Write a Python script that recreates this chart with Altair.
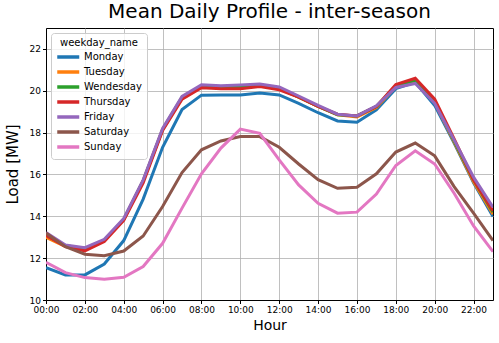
import altair as alt
import pandas as pd

hours = list(range(24))
days = ["Monday", "Tuesday", "Wendesday", "Thursday", "Friday", "Saturday", "Sunday"]
colors = ["#1f77b4", "#ff7f0e", "#2ca02c", "#d62728", "#9467bd", "#8c564b", "#e377c2"]

monday = [11.55, 11.2, 11.2, 11.72, 12.84, 14.82, 17.3, 19.1, 19.79, 19.8, 19.8, 19.89,
          19.8, 19.4, 18.95, 18.56, 18.5, 19.09, 20.1, 20.4, 19.3, 17.5, 15.6, 13.99]
tuesday = [13.0, 12.55, 12.4, 12.85, 13.85, 15.7, 18.15, 19.65, 20.2, 20.15, 20.15, 20.25,
           20.1, 19.7, 19.25, 18.85, 18.75, 19.2, 20.2, 20.45, 19.45, 17.55, 15.65, 14.1]
wednesday = [13.1, 12.6, 12.45, 12.85, 13.85, 15.7, 18.15, 19.7, 20.2, 20.15, 20.2, 20.25,
             20.1, 19.7, 19.25, 18.85, 18.8, 19.25, 20.25, 20.5, 19.5, 17.6, 15.75, 14.2]
thursday = [13.1, 12.55, 12.35, 12.8, 13.8, 15.6, 18.1, 19.6, 20.15, 20.1, 20.1, 20.2,
            20.05, 19.7, 19.25, 18.88, 18.8, 19.25, 20.3, 20.6, 19.6, 17.7, 15.75, 14.25]
friday = [13.22, 12.63, 12.5, 12.9, 13.9, 15.74, 18.2, 19.73, 20.29, 20.24, 20.27, 20.32,
          20.18, 19.75, 19.3, 18.88, 18.8, 19.28, 20.16, 20.35, 19.4, 17.65, 15.87, 14.43]
saturday = [13.2, 12.55, 12.19, 12.12, 12.34, 13.06, 14.47, 16.09, 17.18, 17.6, 17.81, 17.81,
            17.3, 16.5, 15.75, 15.34, 15.39, 16.03, 17.07, 17.5, 16.89, 15.42, 14.15, 12.84]
sunday = [11.8, 11.31, 11.07, 10.99, 11.09, 11.6, 12.71, 14.39, 16.03, 17.26, 18.17, 17.97,
          16.7, 15.5, 14.62, 14.15, 14.2, 15.06, 16.43, 17.13, 16.5, 15.1, 13.54, 12.31]

series = [monday, tuesday, wednesday, thursday, friday, saturday, sunday]

x_ticks = list(range(0, 24, 2))
y_ticks = list(range(10, 23, 2))

color_scale = alt.Scale(domain=days, range=colors)

legend = alt.Legend(
    title="weekday_name", orient="none", legendX=5, legendY=5,
    symbolType="M-1.875,0H9.125", symbolSize=16, symbolStrokeWidth=3.5,
    labelOffset=18, strokeColor="#cccccc", fillColor="rgba(255,255,255,0.8)",
    cornerRadius=3, padding=5, labelFontSize=10, titleFontSize=10,
    titleFontWeight="normal", titleColor="black", labelColor="black",
    rowPadding=1, titleAnchor="middle", titleAlign="center", titlePadding=4,
)

layers = []
for name, vals in zip(days, series):
    df = pd.DataFrame({"hour": hours, "load": vals, "weekday_name": name})
    layers.append(
        alt.Chart(df).mark_line(strokeWidth=3, clip=True).encode(
            x=alt.X("hour:Q",
                    scale=alt.Scale(domain=[0, 23], nice=False, zero=False),
                    axis=alt.Axis(values=x_ticks, title="Hour", labelOverlap=False,
                                  labelFlush=False,
                                  labelExpr="(datum.value < 10 ? '0' : '') + datum.value + ':00'")),
            y=alt.Y("load:Q",
                    scale=alt.Scale(domain=[10, 23], nice=False, zero=False),
                    axis=alt.Axis(values=y_ticks, title="Load [MW]", labelOverlap=False,
                                  labelFlush=False)),
            color=alt.Color("weekday_name:N", scale=color_scale, legend=legend),
        )
    )

chart = alt.layer(*layers).properties(
    width=447, height=272,
    title=alt.TitleParams("Mean Daily Profile - inter-season", fontSize=20,
                          font="DejaVu Sans", fontWeight="normal", color="black", offset=6),
    autosize=alt.AutoSizeParams(type="none"),
    padding={"left": 46, "top": 28, "right": 6, "bottom": 43},
).configure(
    font="DejaVu Sans",
    background="white",
).configure_view(
    stroke="black", strokeWidth=1,
).configure_axis(
    grid=True, gridColor="#b0b0b0", gridWidth=0.8,
    domainColor="black", tickColor="black", tickSize=3.5,
    labelFontSize=9, labelColor="black", labelPadding=2,
    titleFontWeight="normal", titleColor="black",
).configure_axisX(
    titlePadding=4, titleFontSize=14,
).configure_axisY(
    titlePadding=9, titleFontSize=15,
)

chart.save("out.html", embed_options={"renderer": "svg", "actions": False})
